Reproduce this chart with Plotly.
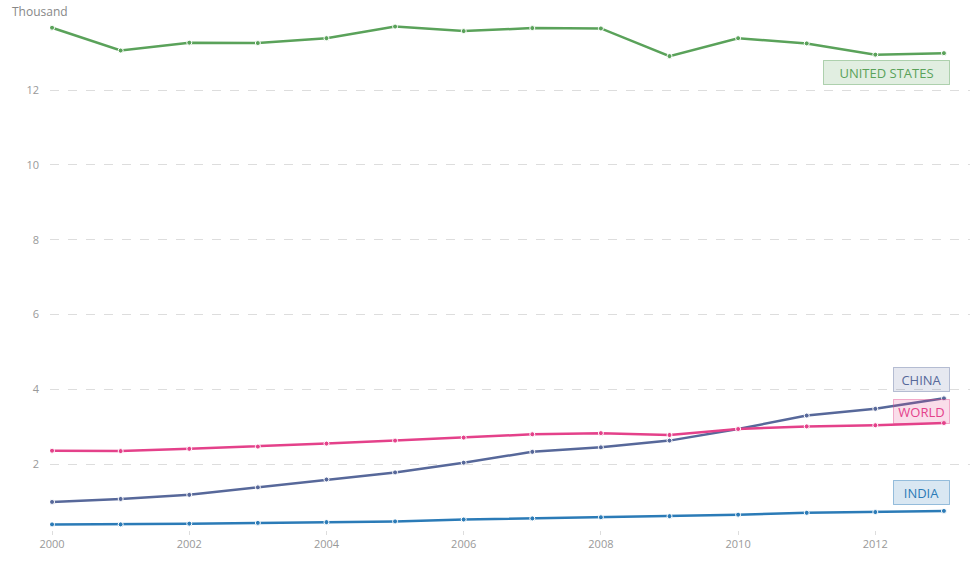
import plotly.graph_objects as go

years = list(range(2000, 2014))
united_states = [13.67, 13.06, 13.27, 13.26, 13.39, 13.70, 13.58, 13.66, 13.65, 12.91, 13.39, 13.25, 12.95, 12.99]
china = [0.99, 1.07, 1.18, 1.38, 1.59, 1.78, 2.04, 2.33, 2.45, 2.63, 2.94, 3.30, 3.48, 3.76]
world = [2.36, 2.35, 2.41, 2.47, 2.55, 2.63, 2.71, 2.80, 2.83, 2.78, 2.94, 3.01, 3.04, 3.10]
india = [0.39, 0.39, 0.41, 0.43, 0.45, 0.47, 0.52, 0.55, 0.58, 0.61, 0.65, 0.70, 0.72, 0.75]

y_ticks = [2, 4, 6, 8, 10, 12]
x_ticks = [2000, 2002, 2004, 2006, 2008, 2010, 2012]

series = [
    ("UNITED STATES", united_states, "#5aa25a", "rgba(90,162,90,0.18)", "rgba(90,162,90,0.45)", 12.47, 119),
    ("CHINA", china, "#57689a", "rgba(87,104,154,0.15)", "rgba(87,104,154,0.4)", 4.27, 49),
    ("WORLD", world, "#e4418a", "rgba(228,65,138,0.18)", "rgba(228,65,138,0.4)", 3.42, 49),
    ("INDIA", india, "#2b7bb7", "rgba(43,123,183,0.18)", "rgba(43,123,183,0.45)", 1.25, 49),
]

fig = go.Figure()
for name, vals, col, fill, border, ly, w in series:
    fig.add_trace(go.Scatter(
        x=years, y=vals, mode="lines+markers", name=name,
        line=dict(color=col, width=2.5),
        marker=dict(size=5, color=col, line=dict(color="white", width=1)),
        hoverinfo="x+y",
    ))
    fig.add_annotation(
        x=2013.09, y=ly, xref="x", yref="y", xanchor="right", yanchor="middle",
        text=name, showarrow=False, font=dict(color=col, size=13, family="Open Sans"),
        bgcolor=fill, bordercolor=border, borderwidth=1, borderpad=3,
        width=w, height=17,
    )

fig.add_annotation(
    x=-0.0435, y=1.028, xref="paper", yref="paper", xanchor="left", yanchor="top",
    text="Thousand", showarrow=False, font=dict(color="#888", size=12, family="Open Sans"),
)

fig.update_layout(
    width=978, height=581,
    margin=dict(l=50, r=8, t=15, b=51, autoexpand=False),
    plot_bgcolor="white", paper_bgcolor="white",
    showlegend=False,
    font=dict(family="Open Sans", color="#999"),
    xaxis=dict(
        range=[1999.97, 2013.38], tickvals=x_ticks, ticktext=[str(t) for t in x_ticks],
        showgrid=False, zeroline=False, showline=False,
        ticks="outside", ticklen=4, tickcolor="#ddd",
        tickfont=dict(size=11, color="#999"),
    ),
    yaxis=dict(
        range=[0.24, 14.01], tickvals=y_ticks, ticktext=[str(t) for t in y_ticks],
        showgrid=True, gridcolor="#ddd", griddash="dash", gridwidth=1,
        zeroline=False, showline=False, ticks="", ticklabelstandoff=10,
        tickfont=dict(size=11, color="#999"),
    ),
)

fig.write_html(
    "out.html",
    config={"displayModeBar": False},
    post_script="document.body.style.margin='0px';document.body.style.overflow='hidden';",
)
